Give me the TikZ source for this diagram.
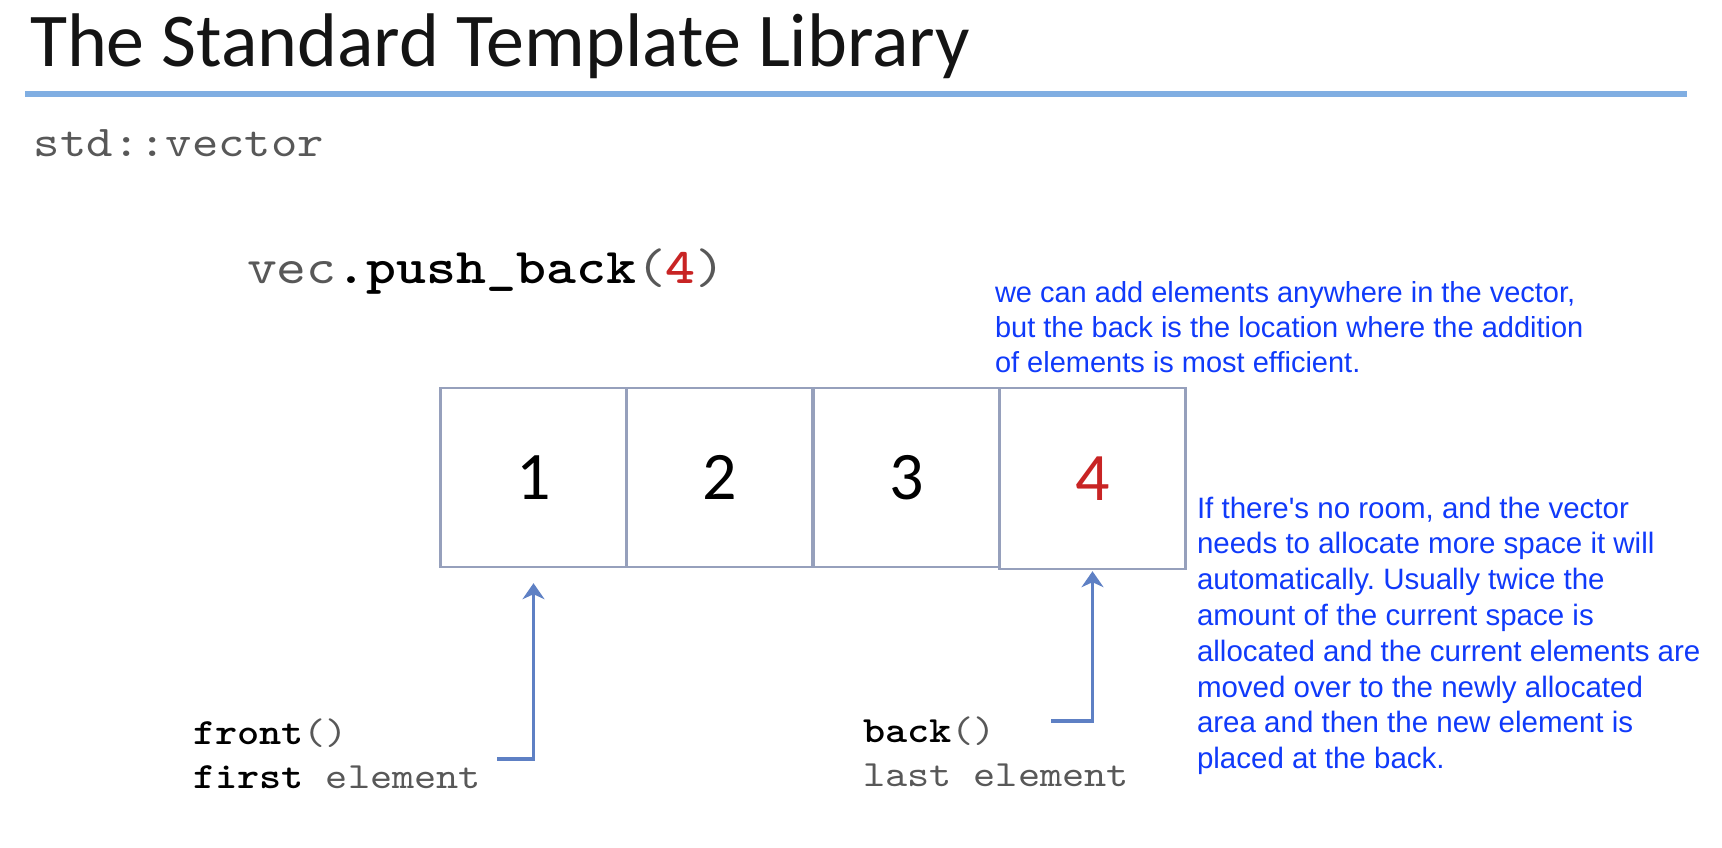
\documentclass[tikz,border=0pt]{standalone}
\usepackage{fontspec}
\setmainfont{Carlito}
\newfontfamily\notefont[Ligatures=TeXOff]{Liberation Sans}
\newfontfamily\codefont{lmmono10-regular.otf}[FakeStretch=1.14, BoldFont=lmmonolt10-bold.otf]
\usetikzlibrary{arrows.meta}

\definecolor{rulecol}{RGB}{128,174,226}
\definecolor{notecol}{RGB}{16,58,250}
\definecolor{cellline}{RGB}{150,160,188}
\definecolor{ptrcol}{RGB}{94,128,196}
\definecolor{valred}{RGB}{200,36,36}
\definecolor{codegray}{RGB}{88,88,88}

\tikzset{
  txt/.style={anchor=base west, inner sep=0pt, outer sep=0pt},
  cell/.style={draw=cellline, line width=2.4pt, minimum width=186pt,
    minimum height=179pt, inner sep=0pt,
    font=\fontsize{68}{72}\selectfont},
  ptr/.style={draw=ptrcol, line width=3.5pt,
    -{Stealth[length=16pt, width=22pt, inset=5pt]}},
  code/.style={txt, font=\codefont\fontsize{37}{42}\selectfont},
  note/.style={txt, text=notecol},
}

\begin{document}
\frenchspacing
\begin{tikzpicture}[x=1pt, y=-1pt]
\useasboundingbox (0,0) rectangle (1722,848);

% heading and underline
\node[txt, font=\fontsize{76}{80}\selectfont, text={rgb,255:red,20;green,20;blue,20}]
  (title) at (30,67) {The Standard Template Library};
\draw[rulecol, line width=6pt] (25,94) -- (1687,94);

\node[txt, font=\codefont\fontsize{44}{50}\selectfont, text=codegray]
  (type) at (34,157) {std::vector};

\node[txt, font=\codefont\fontsize{50}{56}\selectfont]
  (call) at (247,283) {\textcolor{codegray}{vec}\textbf{.push\_back}\textcolor{codegray}{(}{\bfseries\color{valred}4}\textcolor{codegray}{)}};

% the four cells of the vector
\node[cell] (c1) at (533.5,477.5) {1};
\node[cell] (c2) at (719.5,477.5) {2};
\node[cell] (c3) at (906.5,477.5) {3};
\node[cell, minimum height=181pt, text=valred] (c4) at (1092.5,478.5) {4};

% front / back pointers
\node[code] (front) at (193,744) {\textbf{front}\textcolor{codegray}{()}};
\node[code] (first) at (193,788) {\textbf{first}\ \textcolor{codegray}{element}};
\node[code] (back) at (863,742) {\textbf{back}\textcolor{codegray}{()}};
\node[code, text=codegray] (last) at (863,786) {last element};

\coordinate (fstart) at (497,759);
\coordinate (bstart) at (1051,721);
\draw[ptr, shorten >=15pt] (fstart) -| (c1.south);
\draw[ptr, shorten >=1pt] (bstart) -| (c4.south);

% explanatory notes
\foreach \ln [count=\k from 0] in {{we can add elements anywhere in the vector,},{but the back is the location where the addition},{of elements is most efficient.}}
  \node[note, font=\notefont\fontsize{29}{34}\selectfont] (top-\k) at (995,{302+35.3*\k}) {\ln};

\foreach \ln [count=\k from 0] in {{If there's no room, and the vector},{needs to allocate more space it will},{automatically. Usually twice the},{amount of the current space is},{allocated and the current elements are},{moved over to the newly allocated},{area and then the new element is},{placed at the back.}}
  \node[note, font=\notefont\fontsize{29.5}{36}\selectfont] (side-\k) at (1197,{518+35.8*\k}) {\ln};
\end{tikzpicture}
\end{document}
